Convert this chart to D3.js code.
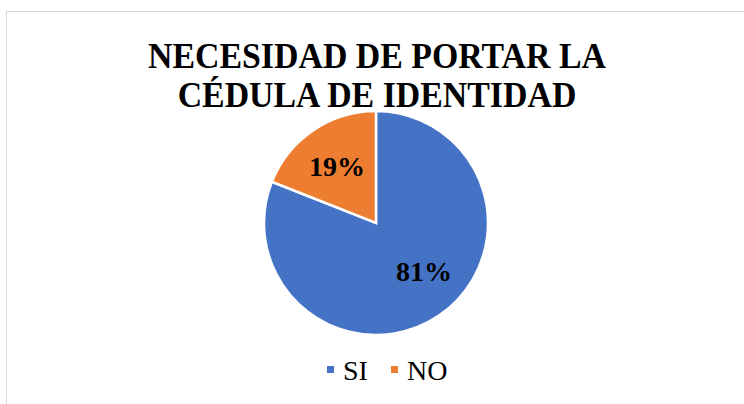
<!DOCTYPE html>
<html>
<head>
<meta charset="utf-8">
<script src="https://cdn.jsdelivr.net/npm/d3@7"></script>
<style>
  body { margin: 0; background: #fff; }
  svg { display: block; }
</style>
</head>
<body>
<div id="chart"></div>
<script>
var categories = ['SI', 'NO'];
var values = [81, 19];
var colors = ['#4472C4', '#ED7D31'];
var titleLines = ['NECESIDAD DE PORTAR LA', 'CÉDULA DE IDENTIDAD'];

var width = 744, height = 404;
var font = '"Liberation Serif", "Times New Roman", serif';

var svg = d3.select('#chart').append('svg')
    .attr('width', width)
    .attr('height', height);

// chart border
svg.append('rect')
    .attr('x', 6.5)
    .attr('y', 11.5)
    .attr('width', 760)
    .attr('height', 420)
    .attr('fill', '#fff')
    .attr('stroke', '#d9d9d9')
    .attr('stroke-width', 1);

// title
var title = svg.append('g');
titleLines.forEach(function(t, i) {
    title.append('text')
        .attr('x', 377)
        .attr('y', 68 + i * 39)
        .attr('text-anchor', 'middle')
        .attr('font-family', font)
        .attr('font-weight', 'bold')
        .attr('font-size', '36px')
        .attr('fill', '#000')
        .text(t);
});
var w1 = title.select('text').node().getComputedTextLength();
var sx = Math.min(1, 458 / w1);
title.selectAll('text').attr('transform',
    'translate(377,0) scale(' + sx + ',1) translate(-377,0)');

// pie
var cx = 376, cy = 223, r = 112;
var pie = d3.pie().sort(null).value(function(d) { return d; });
var arc = d3.arc().innerRadius(0).outerRadius(r);
var labelArc = d3.arc().innerRadius(r * 0.62).outerRadius(r * 0.62);

var g = svg.append('g')
    .attr('transform', 'translate(' + cx + ',' + cy + ')');

var arcs = pie(values);
g.selectAll('path')
    .data(arcs)
    .enter().append('path')
    .attr('d', arc)
    .attr('fill', function(d, i) { return colors[i]; })
    .attr('stroke', '#fff')
    .attr('stroke-width', 2.5);

// excel's best-fit puts the big label a bit further round
var nudge = [[9, -9], [0, 0]];
g.selectAll('text.lbl')
    .data(arcs)
    .enter().append('text')
    .attr('class', 'lbl')
    .attr('transform', function(d, i) {
        var c = labelArc.centroid(d);
        return 'translate(' + (c[0] + nudge[i][0]) + ',' + (c[1] + 10 + nudge[i][1]) + ')';
    })
    .attr('text-anchor', 'middle')
    .attr('font-family', font)
    .attr('font-weight', 'bold')
    .attr('font-size', '28px')
    .attr('fill', '#000')
    .text(function(d) { return d.data + '%'; });

// legend
var legend = svg.append('g');
var legX = [327, 391];
categories.forEach(function(c, i) {
    legend.append('rect')
        .attr('x', legX[i])
        .attr('y', 366)
        .attr('width', 7)
        .attr('height', 7)
        .attr('fill', colors[i]);
    legend.append('text')
        .attr('x', legX[i] + 16)
        .attr('y', 380)
        .attr('font-family', font)
        .attr('font-size', '28px')
        .attr('fill', '#000')
        .text(c);
});
</script>
</body>
</html>
